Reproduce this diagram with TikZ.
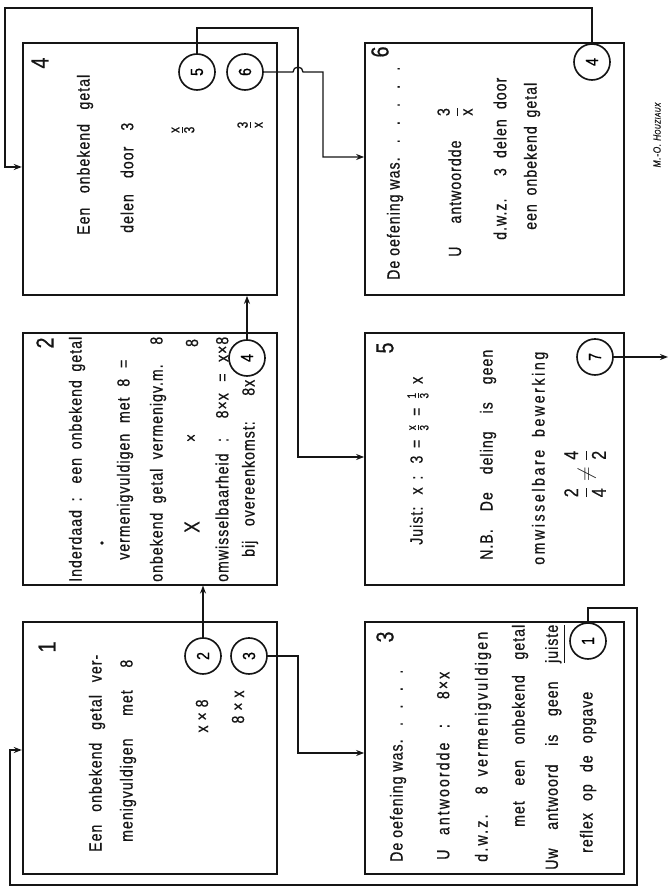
\documentclass[tikz,border=0pt]{standalone}
\usepackage{amsmath}
\usepackage{graphicx}
\usepackage{fontspec}
\setmainfont{Liberation Sans}[FakeStretch=0.8,LetterSpace=6,FakeBold=0.6]
\usepackage{tikz}
\usetikzlibrary{arrows.meta,calc}
\definecolor{InkDark}{HTML}{151515}
\newcommand{\fillline}[2]{\makebox[#1][s]{#2}}
\tikzset{
  card/.style={draw=InkDark,line width=1.5pt,minimum height=7.56cm,inner sep=0pt},
  txt/.style={rotate=90,anchor=west,inner sep=0pt,text=InkDark,font=\fontsize{15pt}{18pt}\selectfont},
  midtxt/.style={txt,anchor=center},
  stepnum/.style={rotate=90,inner sep=0pt,text=InkDark,font=\fontsize{21pt}{22pt}\selectfont},
  dial/.style={circle,draw=InkDark,line width=1.4pt,minimum size=1.08cm,inner sep=0pt,font=\fontsize{15pt}{18pt}\selectfont},
  wire/.style={-{Stealth[length=2.4mm,width=1.8mm]},line width=1.1pt,draw=InkDark}
}

\begin{document}
\begin{tikzpicture}[x=1cm,y=1cm]
\fill[white] (0,0) rectangle (20.13,26.67);
\useasboundingbox (0,0) rectangle (20.13,26.67);
% kaarten
\node[card,minimum width=7.62cm] (b1) at (4.49,4.22) {};
\node[card,minimum width=7.62cm] (b2) at (4.49,12.91) {};
\node[card,minimum width=7.62cm] (b4) at (4.49,21.6) {};
\node[card,minimum width=7.78cm] (b3) at (14.84,4.22) {};
\node[card,minimum width=7.78cm] (b5) at (14.84,12.91) {};
\node[card,minimum width=7.78cm] (b6) at (14.84,21.6) {};

% kaart 1
\node[stepnum] (n1) at (1.41,7.26) {1};
\node[txt] (b1a) at (2.91,1.11) {\fillline{5.91cm}{Een onbekend getal ver-}};
\node[txt] (b1b) at (3.84,1.41) {\fillline{5.46cm}{menigvuldigen met 8}};
\node[midtxt] (b1c) at (6.06,5.19) {x × 8};
\node[midtxt] (b1d) at (7.14,5.46) {8 × x};
\node[dial] (p2) at (6.09,6.99) {\rotatebox{90}{2}};
\node[dial] (p3) at (7.47,6.99) {\rotatebox{90}{3}};

% kaart 2
\node[stepnum] (n2) at (1.35,16.38) {2};
\node[txt] (b2a) at (2.31,9.21) {\fillline{7.35cm}{Inderdaad : een onbekend getal}};
\fill[InkDark] (3.06,10.38) circle (1.6pt);
\node[txt] (b2b) at (3.75,9.87) {\fillline{6.0cm}{vermenigvuldigen met 8 =}};
\node[txt] (b2c) at (4.74,9.21) {\fillline{7.35cm}{onbekend getal vermenigv.m. 8}};
\node[midtxt,font=\fontsize{18pt}{20pt}\selectfont] (b2d) at (5.76,10.86) {X};
\node[midtxt] (b2e) at (5.76,13.53) {×};
\node[midtxt] (b2f) at (5.76,16.38) {8};
\node[txt] (b2g) at (6.66,9.21) {\fillline{7.35cm}{omwisselbaarheid : 8×x = x×8}};
\node[txt] (b2h) at (7.5,9.96) {\fillline{5.31cm}{bij overeenkomst: 8x}};
\node[dial] (p4) at (7.41,15.93) {\rotatebox{90}{4}};

% kaart 4
\node[stepnum] (n4) at (1.2,24.78) {4};
\node[txt] (b4a) at (2.55,19.62) {\fillline{4.8cm}{Een onbekend getal}};
\node[txt] (b4b) at (3.81,19.68) {\fillline{3.3cm}{delen door 3}};
\node[midtxt,font=\fontsize{18pt}{20pt}\selectfont] (b4c) at (5.49,22.77) {$\frac{\text{x}}{\text{3}}$};
\node[midtxt,font=\fontsize{18pt}{20pt}\selectfont] (b4d) at (7.5,22.92) {$\frac{\text{3}}{\text{x}}$};
\node[dial] (p5) at (5.91,24.51) {\rotatebox{90}{5}};
\node[dial] (p6) at (7.35,24.51) {\rotatebox{90}{6}};

% kaart 6
\node[stepnum] (n6) at (11.4,25.11) {6};
\node[txt] (b6a) at (11.85,18.27) {\makebox[6.39cm][l]{De oefening was.\hfill.\hfill.\hfill.\hfill.\hfill.}};
\node[txt] (b6b) at (13.65,18.96) {\fillline{4.5cm}{U antwoordde $\dfrac{\text{3}}{\text{x}}$}};
\node[txt] (b6c) at (15.0,19.47) {\fillline{4.86cm}{d.w.z. 3 delen door}};
\node[txt] (b6d) at (15.96,19.77) {\fillline{4.41cm}{een onbekend getal}};
\node[dial] (p4b) at (17.76,24.81) {\rotatebox{90}{4}};

% kaart 5
\node[stepnum] (n5) at (11.55,16.23) {5};
\node[txt] (b5a) at (12.54,10.32) {\fillline{5.04cm}{Juist: x : 3 = $\frac{\text{x}}{\text{3}}$ = $\frac{\text{1}}{\text{3}}$ x}};
\node[txt] (b5b) at (14.64,9.87) {\fillline{6.3cm}{N.B. De deling is geen}};
\node[txt] (b5c) at (16.2,9.72) {\fillline{6.39cm}{\addfontfeature{LetterSpace=15}omwisselbare bewerking}};
\node[midtxt,font=\fontsize{17pt}{20pt}\selectfont] (b5d) at (17.55,12.45) {$\dfrac{\text{2}}{\text{4}} \neq \dfrac{\text{4}}{\text{2}}$};
\node[dial] (p7) at (17.85,15.96) {\rotatebox{90}{7}};

% kaart 3
\node[stepnum] (n3) at (11.55,7.56) {3};
\node[txt] (b3a) at (11.94,0.81) {\makebox[5.76cm][l]{De oefening was.\hfill.\hfill.\hfill.\hfill.}};
\node[txt] (b3b) at (13.29,0.87) {\fillline{5.64cm}{\addfontfeature{LetterSpace=12}U antwoordde : 8×x}};
\node[txt] (b3c) at (14.49,0.81) {\fillline{6.9cm}{\addfontfeature{LetterSpace=13}d.w.z. 8 vermenigvuldigen}};
\node[txt] (b3d) at (15.6,1.86) {\fillline{6.06cm}{met een onbekend getal}};
\node[txt] (b3e) at (16.65,0.57) {\fillline{7.35cm}{Uw antwoord is geen \underline{juiste}}};
\node[txt] (b3f) at (17.64,1.08) {\fillline{4.83cm}{reflex op de opgave}};
\node[dial] (p1) at (17.64,7.44) {\rotatebox{90}{1}};

% verbindingen
\draw[wire] (p2.north) -- (p2.north |- b2.south);
\coordinate (k3) at (8.94,4.08);
\draw[wire] (p3.east) -| (k3) -- (k3 -| b3.west);
\draw[wire] (p4.north) -- (p4.north |- b4.south);
\coordinate (k5a) at (8.94,25.83);
\coordinate (k5b) at (8.94,12.96);
\draw[wire] (p5.north) |- (k5a) -- (k5b) -- (k5b -| b5.west);
\coordinate (k6) at (9.69,21.96);
\draw[wire] (p6.east) -- (8.79,24.51) arc[start angle=180,end angle=0,radius=0.15] -- (k6 |- p6.east) -- (k6) -- (k6 -| b6.west);
\coordinate (k4a) at (0.15,26.43);
\coordinate (k4b) at (0.15,21.66);
\draw[wire] (p4b.north) |- (k4a) -- (k4b) -- (k4b -| b4.west);
\coordinate (k1a) at (19.11,8.43);
\coordinate (k1b) at (19.11,0.12);
\coordinate (k1c) at (0.3,0.12);
\coordinate (k1d) at (0.3,4.17);
\draw[wire] (p1.north) |- (k1a) -- (k1b) -- (k1c) -- (k1d) -- (k1d -| b1.west);
\coordinate (k7) at (20.04,15.96);
\draw[wire] (p7.east) -- (k7);

\node[rotate=90,inner sep=0pt,text=InkDark,font=\itshape\fontsize{9pt}{10pt}\selectfont] (sig) at (19.71,22.62) {M.-O. H{\fontsize{7pt}{8pt}\selectfont OUZIAUX}};
\end{tikzpicture}
\end{document}
